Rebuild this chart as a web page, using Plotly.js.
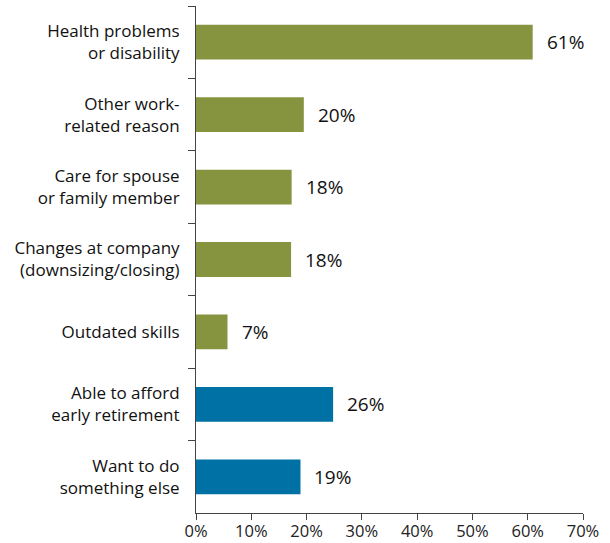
<!DOCTYPE html>
<html>
<head>
<meta charset="utf-8">
<script src="https://cdn.plot.ly/plotly-3.0.1.min.js"></script>
<style>html,body{margin:0;padding:0;background:#fff}#chart{width:610px;height:543px}</style>
</head>
<body>
<div id="chart"></div>
<script>
const categories = [
  "Health problems<br>or disability",
  "Other work-<br>related reason",
  "Care for spouse<br>or family member",
  "Changes at company<br>(downsizing/closing)",
  "Outdated skills",
  "Able to afford<br>early retirement",
  "Want to do<br>something else"
];
const values = [60.9, 19.5, 17.3, 17.2, 5.7, 24.8, 18.9];
const valueLabels = ["61%", "20%", "18%", "18%", "7%", "26%", "19%"];
const groups = ["g", "g", "g", "g", "g", "b", "b"];
const tickVals = [0, 10, 20, 30, 40, 50, 60, 70];
const tickText = ["0%", "10%", "20%", "30%", "40%", "50%", "60%", "70%"];

const colorMap = {g: "#86943F", b: "#0071A4"};
const font = "'Open Sans', 'Noto Sans', sans-serif";

const trace = {
  type: "bar",
  orientation: "h",
  x: values,
  y: categories,
  marker: {color: groups.map(g => colorMap[g])},
  hoverinfo: "skip"
};

const annotations = values.map((v, i) => ({
  x: v, y: categories[i], xref: "x", yref: "y",
  text: valueLabels[i], showarrow: false,
  xanchor: "left", yanchor: "middle", xshift: 12,
  font: {family: font, size: 19, color: "#111"}
}));

const layout = {
  width: 610, height: 543,
  margin: {l: 196, r: 27, t: 6, b: 30},
  paper_bgcolor: "#fff", plot_bgcolor: "#fff",
  showlegend: false,
  bargap: 0.52,
  font: {family: font, size: 17, color: "#111"},
  xaxis: {
    range: [0, 70], tickvals: tickVals, ticktext: tickText,
    showgrid: false, zeroline: false,
    showline: true, linecolor: "#444", linewidth: 1,
    ticks: "outside", ticklen: 6, tickcolor: "#444",
    tickfont: {family: font, size: 16.5, color: "#222"},
    ticklabelstandoff: -3,
    fixedrange: true
  },
  yaxis: {
    type: "category", autorange: "reversed",
    showgrid: false, zeroline: false,
    showline: true, linecolor: "#444", linewidth: 1,
    ticks: "outside", tickson: "boundaries", ticklen: 7, tickcolor: "#444",
    tickfont: {family: font, size: 17, color: "#111"},
    ticklabelstandoff: 12,
    fixedrange: true
  },
  annotations: annotations
};

Plotly.newPlot("chart", [trace], layout, {displayModeBar: false, staticPlot: true});
</script>
</body>
</html>
